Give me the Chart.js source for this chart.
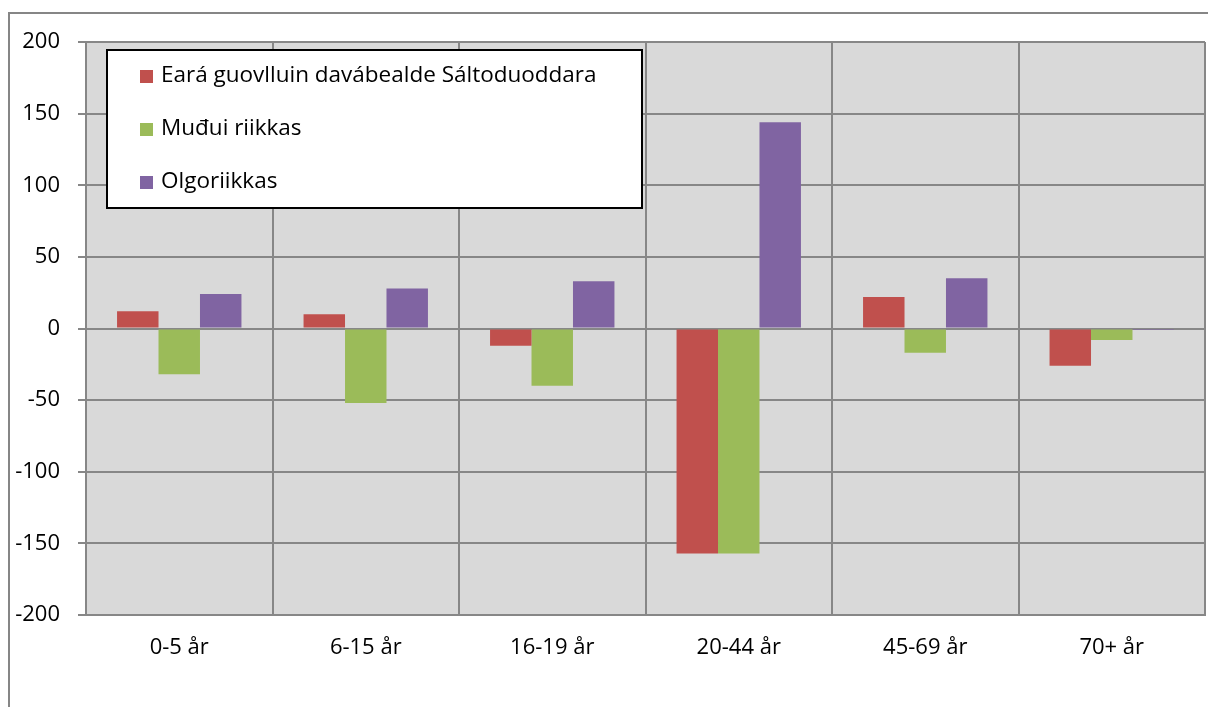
<!DOCTYPE html>
<html>
<head>
<meta charset="utf-8">
<script src="https://cdn.jsdelivr.net/npm/chart.js@4"></script>
<style>
  html, body { margin: 0; padding: 0; background: #fff; }
  #wrap { width: 1208px; height: 707px; position: relative; }
</style>
</head>
<body>
<div id="wrap"><canvas id="chart"></canvas></div>
<script>
var categories = ['0-5 år', '6-15 år', '16-19 år', '20-44 år', '45-69 år', '70+ år'];
var seriesNames = ['Eará guovlluin davábealde Sáltoduoddara', 'Muđui riikkas', 'Olgoriikkas'];
var earaGuovlluin = [12, 10, -12, -157, 22, -26];
var muduiRiikkas = [-32, -52, -40, -157, -17, -8];
var olgoriikkas = [24, 28, 33, 144, 35, -1];
var yTicks = [-200, -150, -100, -50, 0, 50, 100, 150, 200];

var colors = ['#C0504D', '#9BBB59', '#8064A2'];
var fontFamily = '"Open Sans", "Noto Sans", sans-serif';

// grey plot area + outer frame
var backgroundPlugin = {
    id: 'background',
    beforeDraw: function(chart) {
        var ctx = chart.ctx;
        var a = chart.chartArea;
        ctx.save();
        ctx.fillStyle = '#D9D9D9';
        ctx.fillRect(a.left, a.top, a.right - a.left, a.bottom - a.top);
        ctx.strokeStyle = '#868686';
        ctx.lineWidth = 2;
        ctx.beginPath();
        ctx.moveTo(9, 707);
        ctx.lineTo(9, 13);
        ctx.lineTo(1208, 13);
        ctx.stroke();
        ctx.restore();
    }
};

// legend box drawn over the plot, like the original
var legendBoxPlugin = {
    id: 'legendBox',
    afterDraw: function(chart) {
        var ctx = chart.ctx;
        var x = 107, y = 50, w = 535, h = 158;
        ctx.save();
        ctx.fillStyle = '#fff';
        ctx.fillRect(x, y, w, h);
        ctx.strokeStyle = '#000';
        ctx.lineWidth = 2;
        ctx.strokeRect(x, y, w, h);
        ctx.font = '22.5px ' + fontFamily;
        ctx.textBaseline = 'middle';
        chart.data.datasets.forEach(function(ds, i) {
            var cy = 76 + i * 53;
            ctx.fillStyle = ds.backgroundColor;
            ctx.fillRect(140, cy - 6, 13, 13);
            ctx.fillStyle = '#000';
            ctx.fillText(ds.label, 161, cy);
        });
        ctx.restore();
    }
};

var ctx = document.getElementById('chart');
var myChart = new Chart(ctx, {
    type: 'bar',
    data: {
        labels: categories,
        datasets: [{
            label: seriesNames[0],
            data: earaGuovlluin,
            backgroundColor: colors[0]
        }, {
            label: seriesNames[1],
            data: muduiRiikkas,
            backgroundColor: colors[1]
        }, {
            label: seriesNames[2],
            data: olgoriikkas,
            backgroundColor: colors[2]
        }]
    },
    options: {
        responsive: true,
        maintainAspectRatio: false,
        animation: false,
        layout: { padding: { left: 0, right: 3, top: 42, bottom: 0 } },
        datasets: {
            bar: { categoryPercentage: 0.667, barPercentage: 1.0, borderWidth: 0 }
        },
        plugins: {
            legend: { display: false },
            tooltip: { enabled: false }
        },
        scales: {
            x: {
                offset: true,
                grid: { color: '#878787', lineWidth: 2, offset: true, tickLength: 0 },
                border: { color: '#878787', width: 2 },
                ticks: { color: '#000', font: { family: fontFamily, size: 22 }, padding: 20, maxRotation: 0 },
                afterFit: function(scale) { scale.height = 92; }
            },
            y: {
                min: -200,
                max: 200,
                afterBuildTicks: function(scale) {
                    scale.ticks = yTicks.map(function(v) { return { value: v }; });
                },
                grid: { color: '#878787', lineWidth: 2, tickLength: 8 },
                border: { color: '#878787', width: 2 },
                ticks: { color: '#000', font: { family: fontFamily, size: 22 }, padding: 18 },
                afterFit: function(scale) { scale.width = 86; }
            }
        }
    },
    plugins: [backgroundPlugin, legendBoxPlugin]
});
</script>
</body>
</html>
